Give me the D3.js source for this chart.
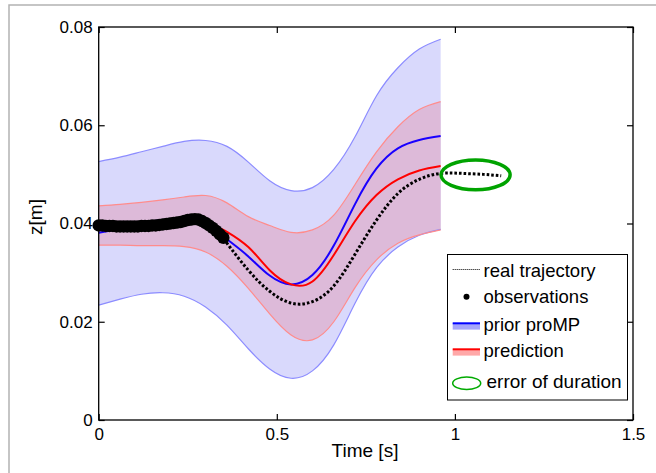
<!DOCTYPE html>
<html>
<head>
<meta charset="utf-8">
<script src="https://cdn.jsdelivr.net/npm/d3@7"></script>
<style>
  body { margin: 0; background: #fff; }
  text { font-family: "Liberation Sans", Arial, sans-serif; fill: #000; }
</style>
</head>
<body>
<svg id="chart" width="656" height="473"></svg>
<script>
// time grid for the proMP bands
const gridTime = [0, 0.06, 0.12, 0.18, 0.24, 0.30, 0.36, 0.42, 0.48, 0.54, 0.60, 0.66, 0.72, 0.78, 0.84, 0.90, 0.96];
const priorUpper = [0.0526, 0.0535, 0.0546, 0.0557, 0.0567, 0.0569, 0.0557, 0.0525, 0.0487, 0.0467, 0.0473, 0.0510, 0.0577, 0.0660, 0.0717, 0.0755, 0.0775];
const priorLower = [0.0234, 0.0246, 0.0256, 0.0259, 0.0252, 0.0230, 0.0193, 0.0145, 0.0104, 0.0085, 0.0100, 0.0153, 0.0238, 0.0310, 0.0352, 0.0376, 0.0388];
const priorMean  = [0.0381, 0.0390, 0.0400, 0.0407, 0.0408, 0.0398, 0.0368, 0.0333, 0.0294, 0.0276, 0.0295, 0.0355, 0.0440, 0.0512, 0.0553, 0.0570, 0.0578];
const predUpper  = [0.0436, 0.0439, 0.0443, 0.0448, 0.0454, 0.0457, 0.0442, 0.0414, 0.0396, 0.0382, 0.0387, 0.0417, 0.0480, 0.0546, 0.0597, 0.0632, 0.0648];
const predLower  = [0.0356, 0.0356, 0.0355, 0.0355, 0.0353, 0.0342, 0.0313, 0.0268, 0.0216, 0.0173, 0.0163, 0.0200, 0.0270, 0.0326, 0.0360, 0.0377, 0.0387];

// predicted mean starts where the observations stop
const predTime = [0.345, 0.36, 0.42, 0.48, 0.54, 0.60, 0.66, 0.72, 0.78, 0.84, 0.90, 0.96];
const predMean = [0.0389, 0.0383, 0.0352, 0.0305, 0.0276, 0.0282, 0.0336, 0.0405, 0.0458, 0.0490, 0.0508, 0.0517];

// real trajectory (dotted)
const realTime = [0, 0.06, 0.12, 0.18, 0.24, 0.27, 0.30, 0.33, 0.36, 0.42, 0.48, 0.54, 0.60, 0.66, 0.72, 0.78, 0.84, 0.90, 0.96, 1.02, 1.08, 1.13];
const realZ    = [0.0396, 0.0394, 0.0395, 0.0398, 0.0405, 0.0409, 0.0405, 0.0388, 0.0360, 0.0305, 0.0262, 0.0238, 0.0241, 0.0273, 0.0338, 0.0407, 0.0461, 0.0490, 0.0502, 0.0502, 0.0500, 0.0497];

// observations
const obsTime = [0, 0.01, 0.02, 0.03, 0.04, 0.05, 0.06, 0.07, 0.08, 0.09, 0.10, 0.11, 0.12, 0.13, 0.14, 0.15, 0.16, 0.17,
                 0.18, 0.19, 0.20, 0.21, 0.22, 0.23, 0.24, 0.25, 0.26, 0.27, 0.28, 0.29, 0.30, 0.31, 0.32, 0.33, 0.34, 0.35];
const obsZ = [0.0396, 0.0396, 0.0395, 0.0395, 0.0395, 0.0394, 0.0394, 0.0394, 0.0394, 0.0394, 0.0394, 0.0394, 0.0395, 0.0395, 0.0395, 0.0396, 0.0396, 0.0397,
              0.0398, 0.0399, 0.0400, 0.0401, 0.0402, 0.0403, 0.0405, 0.0407, 0.0408, 0.0409, 0.0408, 0.0405, 0.0401, 0.0396, 0.0391, 0.0385, 0.0378, 0.0371];

// error of duration ellipse: centre and half widths in data units
const durationEllipse = { t: 1.058, z: 0.0499, dt: 0.097, dz: 0.00305 };

const xTicks = [0, 0.5, 1, 1.5];
const yTicks = [0, 0.02, 0.04, 0.06, 0.08];
const legendLabels = ["real trajectory", "observations", "prior proMP", "prediction", "error of duration"];

const svg = d3.select("#chart");
const plotL = 98.7, plotR = 633, plotT = 27, plotB = 420;

const x = d3.scaleLinear().domain([0, 1.5]).range([plotL, plotR]);
const y = d3.scaleLinear().domain([0, 0.08]).range([plotB, plotT]);

// gray figure frame
svg.append("path")
  .attr("d", "M9,473 L9,5 L656,5")
  .attr("fill", "none").attr("stroke", "#b3b3b3").attr("stroke-width", 1.5);

const bands = gridTime.map((t, i) => ({ t, pu: priorUpper[i], pl: priorLower[i], pm: priorMean[i], ru: predUpper[i], rl: predLower[i] }));
const curve = d3.curveNatural;

// prior band
svg.append("path").datum(bands)
  .attr("d", d3.area().curve(curve).x(d => x(d.t)).y0(d => y(d.pl)).y1(d => y(d.pu)))
  .attr("fill", "#d9d9fc");
// prediction band
svg.append("path").datum(bands)
  .attr("d", d3.area().curve(curve).x(d => x(d.t)).y0(d => y(d.rl)).y1(d => y(d.ru)))
  .attr("fill", "#ddbad9");

const edge = key => d3.line().curve(curve).x(d => x(d.t)).y(d => y(d[key]));
["pu", "pl"].forEach(k => svg.append("path").datum(bands).attr("d", edge(k))
  .attr("fill", "none").attr("stroke", "#8c8cff").attr("stroke-width", 1.2));
["ru", "rl"].forEach(k => svg.append("path").datum(bands).attr("d", edge(k))
  .attr("fill", "none").attr("stroke", "#ff8c8c").attr("stroke-width", 1.2));

// prior mean
svg.append("path").datum(bands).attr("d", edge("pm"))
  .attr("fill", "none").attr("stroke", "#1a00ff").attr("stroke-width", 2);

// prediction mean
const lineTZ = d3.line().curve(curve).x(d => x(d[0])).y(d => y(d[1]));
svg.append("path").datum(d3.zip(predTime, predMean)).attr("d", lineTZ)
  .attr("fill", "none").attr("stroke", "#ff0000").attr("stroke-width", 2);

// real trajectory
svg.append("path").datum(d3.zip(realTime, realZ)).attr("d", lineTZ)
  .attr("fill", "none").attr("stroke", "#000").attr("stroke-width", 3)
  .attr("stroke-dasharray", "2.6,2");

// observations
svg.append("g").selectAll("circle").data(d3.zip(obsTime, obsZ)).join("circle")
  .attr("cx", d => x(d[0])).attr("cy", d => y(d[1])).attr("r", 6.2).attr("fill", "#000");

// error of duration
svg.append("ellipse")
  .attr("cx", x(durationEllipse.t)).attr("cy", y(durationEllipse.z))
  .attr("rx", x(durationEllipse.dt) - x(0)).attr("ry", y(0) - y(durationEllipse.dz))
  .attr("fill", "none").attr("stroke", "#00a300").attr("stroke-width", 3.5);

// axes box and inward ticks
svg.append("rect").attr("x", plotL).attr("y", plotT).attr("width", plotR - plotL).attr("height", plotB - plotT)
  .attr("fill", "none").attr("stroke", "#000").attr("stroke-width", 1.3);

const tl = 6;
svg.append("g").attr("transform", `translate(0,${plotB})`)
  .call(d3.axisBottom(x).tickValues(xTicks).tickSize(-tl).tickPadding(8).tickFormat(d3.format("")))
  .call(g => g.select(".domain").remove());
svg.append("g").attr("transform", `translate(0,${plotT})`)
  .call(d3.axisTop(x).tickValues(xTicks).tickSize(-tl).tickFormat(""))
  .call(g => g.select(".domain").remove());
svg.append("g").attr("transform", `translate(${plotL},0)`)
  .call(d3.axisLeft(y).tickValues(yTicks).tickSize(-tl).tickPadding(6).tickFormat(d => d === 0 ? "0" : d3.format(".2f")(d)))
  .call(g => g.select(".domain").remove());
svg.append("g").attr("transform", `translate(${plotR},0)`)
  .call(d3.axisRight(y).tickValues(yTicks).tickSize(-tl).tickFormat(""))
  .call(g => g.select(".domain").remove());

svg.selectAll(".tick line").attr("stroke", "#000").attr("stroke-width", 1.2);
svg.selectAll(".tick text").attr("font-size", 17).attr("font-family", "Liberation Sans, Arial, sans-serif").attr("fill", "#000");

// axis labels
svg.append("text").attr("x", 365).attr("y", 457).attr("text-anchor", "middle").attr("font-size", 19).text("Time [s]");
svg.append("text").attr("transform", "translate(42,217) rotate(-90)").attr("text-anchor", "middle").attr("font-size", 19).text("z[m]");

// legend
const lg = svg.append("g");
lg.append("rect").attr("x", 447.5).attr("y", 254.5).attr("width", 180).attr("height", 145.5)
  .attr("fill", "#fff").attr("stroke", "#000").attr("stroke-width", 1);
const rowY = [269.5, 296.7, 323.3, 349.3, 383.3];
const sx0 = 452.7, sx1 = 480;
lg.append("line").attr("x1", sx0).attr("x2", sx1).attr("y1", rowY[0]).attr("y2", rowY[0])
  .attr("stroke", "#000").attr("stroke-width", 1).attr("stroke-dasharray", "1,1");
lg.append("circle").attr("cx", 466.5).attr("cy", rowY[1]).attr("r", 3).attr("fill", "#000");
lg.append("rect").attr("x", sx0).attr("y", rowY[2]).attr("width", sx1 - sx0).attr("height", 6.3).attr("fill", "#a6a6fa");
lg.append("line").attr("x1", sx0).attr("x2", sx1).attr("y1", rowY[2]).attr("y2", rowY[2]).attr("stroke", "#0000ff").attr("stroke-width", 2);
lg.append("rect").attr("x", sx0).attr("y", rowY[3]).attr("width", sx1 - sx0).attr("height", 6.3).attr("fill", "#ffa8a8");
lg.append("line").attr("x1", sx0).attr("x2", sx1).attr("y1", rowY[3]).attr("y2", rowY[3]).attr("stroke", "#ff0000").attr("stroke-width", 2);
lg.append("ellipse").attr("cx", 466.7).attr("cy", rowY[4]).attr("rx", 14).attr("ry", 6.2)
  .attr("fill", "none").attr("stroke", "#00aa00").attr("stroke-width", 1.5);

const textX = [483.5, 483.5, 483.5, 483.5, 486.5];
const textY = [276.8, 303.3, 330.5, 357, 387.7];
const textSize = [18.5, 18.5, 18.5, 18.5, 19];
lg.selectAll("text.lab").data(legendLabels).join("text").attr("class", "lab")
  .attr("x", (d, i) => textX[i]).attr("y", (d, i) => textY[i])
  .attr("font-size", (d, i) => textSize[i]).text(d => d);
</script>
</body>
</html>
